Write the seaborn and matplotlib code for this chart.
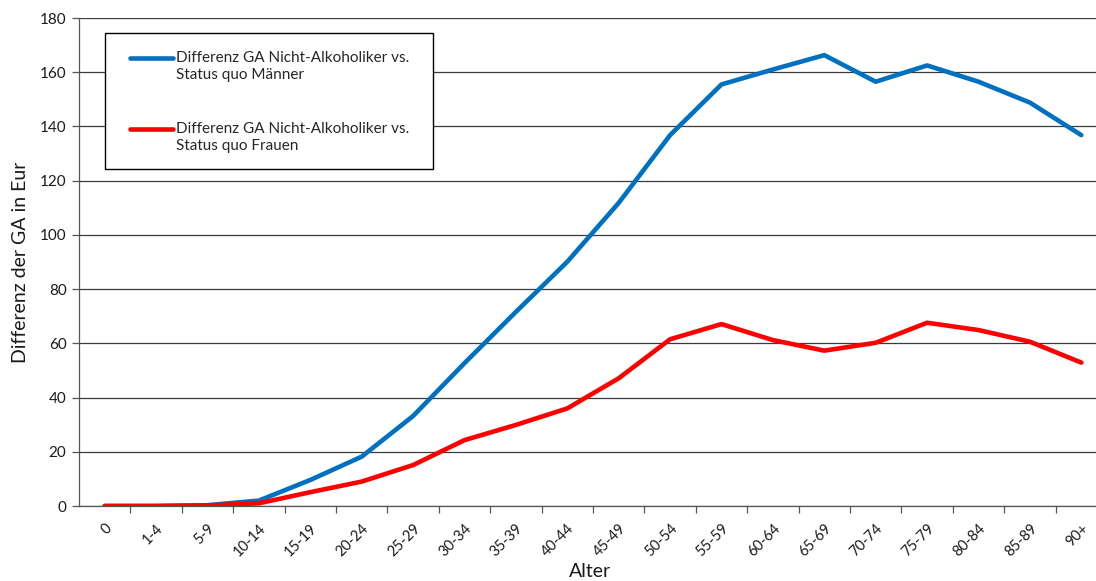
import matplotlib
matplotlib.use("Agg")
import matplotlib.pyplot as plt
from matplotlib.patches import Rectangle
from matplotlib.ticker import FixedLocator
from matplotlib.legend_handler import HandlerLine2D
import numpy as np
import pandas as pd
import seaborn as sns

# Age groups and cost differences (EUR)
age_groups = ["0", "1-4", "5-9", "10-14", "15-19", "20-24", "25-29", "30-34",
              "35-39", "40-44", "45-49", "50-54", "55-59", "60-64", "65-69",
              "70-74", "75-79", "80-84", "85-89", "90+"]
men = [0.0, 0.0, 0.3, 2.0, 9.6, 18.2, 33.2, 52.7, 71.6, 90.1, 111.8, 136.8,
       155.5, 161.0, 166.3, 156.5, 162.5, 156.5, 148.8, 136.8]
women = [0.0, 0.0, 0.2, 1.0, 5.1, 9.0, 15.1, 24.3, 29.9, 36.0, 47.1, 61.5,
         67.1, 61.2, 57.3, 60.2, 67.6, 64.9, 60.6, 52.9]
series_labels = ["Differenz GA Nicht-Alkoholiker vs.\nStatus quo Männer",
                 "Differenz GA Nicht-Alkoholiker vs.\nStatus quo Frauen"]
series_colors = ["#0070C0", "#FF0000"]
y_ticks = [0, 20, 40, 60, 80, 100, 120, 140, 160, 180]

sns.set_theme(style="white")
plt.rcParams["font.family"] = ["Lato", "DejaVu Sans"]

df = pd.DataFrame({
    "pos": list(range(len(age_groups))) * 2,
    "value": men + women,
    "series": [series_labels[0]] * len(men) + [series_labels[1]] * len(women),
})

fig = plt.figure(figsize=(10.96, 5.81), dpi=100)
ax = fig.add_axes([79 / 1096, 75 / 581, 1028 / 1096, 488 / 581])

sns.lineplot(data=df, x="pos", y="value", hue="series",
             palette=series_colors, linewidth=3.3, ax=ax, legend=False,
             sort=False)

ax.set_xlim(-0.5, len(age_groups) - 0.5)
ax.set_ylim(0, 180)

# horizontal grid
ax.set_yticks(y_ticks)
ax.yaxis.grid(True, color="#3a3a3a", linewidth=0.9)
ax.xaxis.grid(False)
ax.set_axisbelow(True)

# category labels centred, tick marks between categories
ax.set_xticks(range(len(age_groups)))
ax.set_xticklabels(age_groups, rotation=45, ha="right",
                   rotation_mode="anchor", fontsize=10.5)
ax.xaxis.set_minor_locator(FixedLocator(np.arange(0.5, len(age_groups) - 0.5, 1)))
ax.tick_params(axis="x", which="major", length=0, pad=11)
ax.tick_params(axis="x", which="minor", length=5, width=0.9,
               color="#555555", direction="out", bottom=True)
ax.tick_params(axis="y", which="major", length=5, width=0.9,
               color="#555555", direction="out", left=True, labelsize=11,
               pad=4)
for lbl in ax.get_yticklabels() + ax.get_xticklabels():
    lbl.set_color("#1a1a1a")

for side in ["top", "right"]:
    ax.spines[side].set_visible(False)
for side in ["left", "bottom"]:
    ax.spines[side].set_color("#555555")
    ax.spines[side].set_linewidth(0.9)

ax.set_xlabel("Alter", fontsize=14, color="#1a1a1a")
ax.set_ylabel("Differenz der GA in Eur", fontsize=14, color="#1a1a1a")
ax.xaxis.set_label_coords((590 - 79) / 1028, -(563 - 506) / 488)
ax.yaxis.set_label_coords(-(79 - 12) / 1028, 0.5)
ax.yaxis.label.set_va("top")


class FirstLineHandler(HandlerLine2D):
    """Legend line drawn level with the first line of a two-line label."""

    def create_artists(self, legend, orig_handle, xdescent, ydescent,
                       width, height, fontsize, trans):
        artists = super().create_artists(legend, orig_handle, xdescent,
                                         ydescent, width, height, fontsize,
                                         trans)
        for a in artists:
            a.set_ydata(np.asarray(a.get_ydata()) + 6.3)
        return artists


# legend with a square frame
handles = [plt.Line2D([], [], color=c, linewidth=3.3) for c in series_colors]
leg = ax.legend(handles, series_labels, loc="upper left",
                bbox_to_anchor=((130 - 79) / 1028, (506 - 51) / 488),
                frameon=False, fontsize=11, handlelength=2.8,
                handletextpad=0.2, labelspacing=2.6, borderpad=0,
                borderaxespad=0,
                handler_map={plt.Line2D: FirstLineHandler()})
for t in leg.get_texts():
    t.set_linespacing(1.3)
ax.add_patch(Rectangle(((105 - 79) / 1028, (506 - 169) / 488),
                       (433 - 105) / 1028, (169 - 33) / 488,
                       transform=ax.transAxes, facecolor="white",
                       edgecolor="black", linewidth=1.0, zorder=4))
leg.set_zorder(5)

fig.savefig("out.png", dpi=100)
